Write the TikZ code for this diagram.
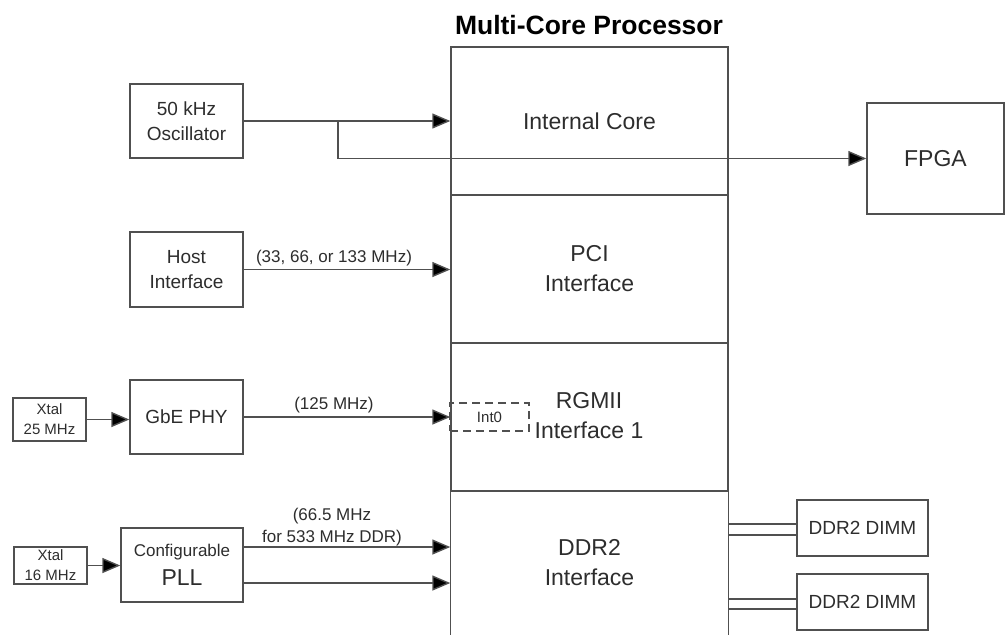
\documentclass[tikz,border=0pt]{standalone}
\usepackage{fontspec}
\setmainfont{Liberation Sans}
\usetikzlibrary{arrows.meta}
\definecolor{linec}{RGB}{80,80,80}
\definecolor{textc}{RGB}{45,45,45}
\tikzset{
  ln/.style={draw=linec, line width=1.4pt},
  box/.style={ln, rectangle, inner sep=0pt, align=center, text=textc},
  arr/.style={ln, -{Triangle[length=18pt,width=15pt,fill=black]}},
  fa/.style={font=\fontsize{19}{25}\selectfont},
  fb/.style={font=\fontsize{23}{30}\selectfont},
  fl/.style={font=\fontsize{17}{22}\selectfont, text=textc, inner sep=0pt, align=center},
  fx/.style={font=\fontsize{15}{20}\selectfont},
}
\begin{document}
\begin{tikzpicture}[x=1pt,y=-1pt]
\useasboundingbox (0,0) rectangle (1005,635);
% processor
\node[font=\bfseries\fontsize{26.5}{30}\selectfont, text=black, inner sep=0pt] (title) at (589,25) {Multi-Core Processor};
\node[box, fb, minimum width=277pt, minimum height=148pt] (core) at (589.5,121) {Internal Core};
\node[box, fb, minimum width=277pt, minimum height=148pt] (pci) at (589.5,269) {PCI\\Interface};
\node[box, fb, minimum width=277pt, minimum height=148pt] (rgmii) at (589.5,417) {};
\node[fb, text=textc, align=center, inner sep=0pt] (rgmiit) at (589,416) {RGMII\\Interface 1};
\node[box, draw=none, fb, minimum width=277pt, minimum height=144pt] (ddr) at (589.5,563) {DDR2\\Interface};
\draw[ln] (ddr.north west) -- (ddr.south west) (ddr.north east) -- (ddr.south east);
\node[box, line width=1.2pt, dash pattern=on 8pt off 5pt, fx, minimum width=79pt, minimum height=28pt] (int0) at (489.5,417) {Int0};
% left blocks
\node[box, fa, minimum width=113pt, minimum height=74pt] (osc) at (186.5,121) {50 kHz\\Oscillator};
\node[box, fa, minimum width=113pt, minimum height=75pt] (host) at (186.5,269.5) {Host\\Interface};
\node[box, fa, minimum width=113pt, minimum height=74pt] (gbe) at (186.5,417) {GbE PHY};
\node[box, fx, minimum width=73pt, minimum height=43pt] (x25) at (49.5,419.5) {Xtal\\25 MHz};
\node[box, minimum width=122pt, minimum height=74pt] (pll) at (182,565) {\fontsize{17}{22}\selectfont Configurable\\[9pt]\fontsize{23}{26}\selectfont PLL};
\node[box, fx, minimum width=73pt, minimum height=37pt] (x16) at (50.5,565.5) {Xtal\\16 MHz};
% right blocks
\node[box, fb, minimum width=137pt, minimum height=111pt] (fpga) at (935.5,158.5) {FPGA};
\node[box, fa, minimum width=131pt, minimum height=56pt] (dimm1) at (862.5,528) {DDR2 DIMM};
\node[box, fa, minimum width=131pt, minimum height=56pt] (dimm2) at (862.5,602) {DDR2 DIMM};
% labels
\node[fl] (lhost) at (334,258) {(33, 66, or 133 MHz)};
\node[fl] (lgbe) at (334,405) {(125 MHz)};
\node[fl] (lpll) at (332,527) {(66.5 MHz\\for 533 MHz DDR)};
% connectors
\coordinate (br) at (338,121);
\draw[arr] (osc.east) -- (osc.east -| core.west);
\draw[arr] (br) |- (fpga.west);
\draw[arr] (host.east) -- (host.east -| pci.west);
\draw[arr] (x25.east) -- (x25.east -| gbe.west);
\draw[arr] (gbe.east) -- (gbe.east -| rgmii.west);
\draw[arr] (x16.east) -- (x16.east -| pll.west);
\draw[arr] ([yshift=18pt]pll.east) -- ([yshift=18pt]pll.east -| ddr.west);
\draw[arr] ([yshift=-18pt]pll.east) -- ([yshift=-18pt]pll.east -| ddr.west);
\draw[ln] ([yshift=4pt]dimm1.west) -- ([yshift=4pt]dimm1.west -| ddr.east);
\draw[ln] ([yshift=-7pt]dimm1.west) -- ([yshift=-7pt]dimm1.west -| ddr.east);
\draw[ln] ([yshift=3pt]dimm2.west) -- ([yshift=3pt]dimm2.west -| ddr.east);
\draw[ln] ([yshift=-7pt]dimm2.west) -- ([yshift=-7pt]dimm2.west -| ddr.east);
\end{tikzpicture}
\end{document}
